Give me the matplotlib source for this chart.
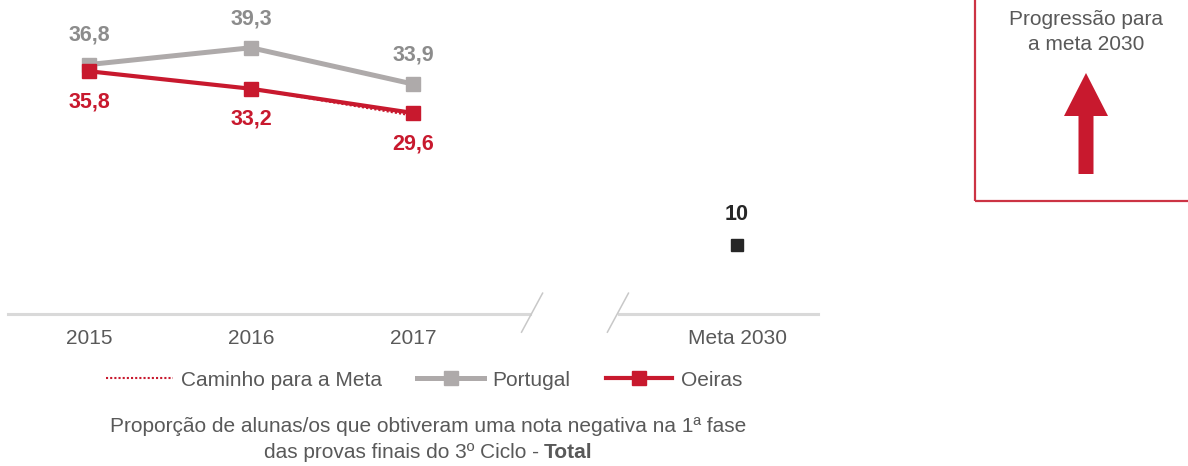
import numpy as np
import matplotlib
matplotlib.use("Agg")
import matplotlib.pyplot as plt
from matplotlib.patches import Rectangle, FancyArrow

plt.rcParams['font.family'] = ['Liberation Sans', 'DejaVu Sans']

# =========================
# DATA
# =========================
categories = ["2015", "2016", "2017", "Meta 2030"]
cat_pos = [0, 1, 2, 4]
portugal = [36.8, 39.3, 33.9]
oeiras = [35.8, 33.2, 29.6]
caminho = [np.nan, 33.2, 29.2]
meta = [10]

GREY = "#aeaaaa"
RED = "#c8192e"
TXT = "#595959"
W, H = 1188, 466

fig = plt.figure(figsize=(11.88, 4.66), dpi=100)
ax = fig.add_axes([8 / W, 152 / H, 810 / W, 314 / H])
ax.set_xlim(-0.5, 4.5)
ax.set_ylim(-0.3, 46.4)
for s in ax.spines.values():
    s.set_visible(False)
ax.set_yticks([])

# series
ax.plot(cat_pos[:3], caminho, ls=(0, (1, 1)), color=RED, lw=1.5,
        label="Caminho para a Meta", zorder=2)
ax.plot(cat_pos[:3], portugal, color=GREY, lw=3.6, marker="s", ms=9.5,
        label="Portugal", zorder=3)
ax.plot(cat_pos[:3], oeiras, color=RED, lw=3.0, marker="s", ms=9.5,
        label="Oeiras", zorder=4)
ax.plot(cat_pos[3:], meta, ls="none", marker="s", ms=9, color="#262626", zorder=4)

# data labels
for x, v in zip(cat_pos, portugal):
    ax.annotate(f"{v:.1f}".replace(".", ","), (x, v), xytext=(0, 21),
                textcoords="offset points", ha="center", va="center",
                fontsize=15.5, fontweight="bold", color="#8c8c8c")
for x, v in zip(cat_pos, oeiras):
    ax.annotate(f"{v:.1f}".replace(".", ","), (x, v), xytext=(0, -22),
                textcoords="offset points", ha="center", va="center",
                fontsize=15.5, fontweight="bold", color=RED)
ax.annotate(f"{meta[0]}", (cat_pos[3], meta[0]), xytext=(0, 22),
            textcoords="offset points", ha="center", va="center",
            fontsize=15.5, fontweight="bold", color="#262626")

# x axis with break
ax.set_xticks(cat_pos)
ax.set_xticklabels(categories, fontsize=15, color=TXT)
ax.tick_params(axis="x", length=0, pad=11)
ax.plot([-0.5, 2.72], [-0.3, -0.3], color="#d9d9d9", lw=2.2, clip_on=False)
ax.plot([3.27, 4.5], [-0.3, -0.3], color="#d9d9d9", lw=2.2, clip_on=False)
ax.plot([2.67, 2.80], [-3.0, 2.8], color="#c8c8c8", lw=1.1, clip_on=False)
ax.plot([3.20, 3.33], [-3.0, 2.8], color="#c8c8c8", lw=1.1, clip_on=False)

# legend
ax.legend(loc="center", bbox_to_anchor=(424 / W, 1 - 380 / H),
          bbox_transform=fig.transFigure, ncol=3, frameon=False,
          fontsize=15, handlelength=3.2, handletextpad=0.4,
          columnspacing=1.7, labelcolor=TXT)

# caption
fig.text(428 / W, 1 - 427 / H,
         "Proporção de alunas/os que obtiveram uma nota negativa na 1ª fase",
         ha="center", va="center", fontsize=15, color=TXT)
r = fig.canvas.get_renderer()
t1 = fig.text(0, 1 - 452 / H, "das provas finais do 3º Ciclo -",
              ha="left", va="center", fontsize=15, color=TXT)
t2 = fig.text(0, 1 - 452 / H, "Total",
              ha="left", va="center", fontsize=15, color=TXT, fontweight="bold")
w1 = t1.get_window_extent(r).width
w2 = t2.get_window_extent(r).width
gap = 5
x0 = 428 - (w1 + gap + w2) / 2
t1.set_x(x0 / W)
t2.set_x((x0 + w1 + gap) / W)

# box on the right
fig.patches.append(Rectangle((975 / W, 1 - 201 / H), 0.3, 0.6,
                             transform=fig.transFigure, fill=False,
                             edgecolor="#cc3344", lw=1.6))
fig.text(1086 / W, 1 - 32 / H, "Progressão para\na meta 2030",
         ha="center", va="center", fontsize=15, color=TXT, linespacing=1.35)
fig.patches.append(FancyArrow(1086 / W, 1 - 174 / H, 0, 101 / H,
                              width=15 / W, head_width=44 / W,
                              head_length=43 / H, length_includes_head=True,
                              transform=fig.transFigure, color=RED, lw=0))

fig.savefig("out.png", dpi=100)
